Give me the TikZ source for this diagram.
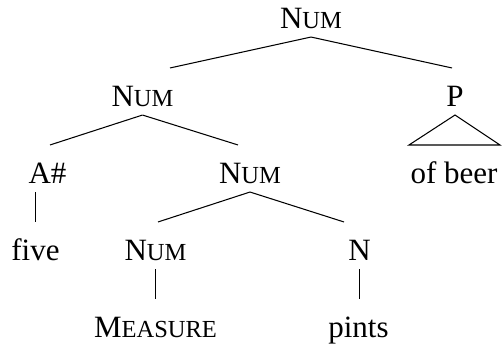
\documentclass[tikz,border=0pt]{standalone}
\usepackage{fontspec}
\setmainfont{Liberation Serif}
\usepackage{tikz}

% small caps faked with a smaller upper case
\newcommand{\capsmall}[2]{#1{\fontsize{24.5pt}{24.5pt}\selectfont #2}}

\begin{document}
\begin{tikzpicture}[
      x=1pt, y=-1pt,
      every node/.style={font=\fontsize{31pt}{31pt}\selectfont, anchor=base,
        inner sep=0pt, text height=37.5pt, text depth=8.5pt},
      line width=1.05pt
    ]
    \useasboundingbox (0,0) rectangle (502,348);
    % labels, placed on their baselines
    \node (root) at (311,28) {\capsmall{N}{UM}};
    \node (numa) at (142.5,106) {\capsmall{N}{UM}};
    \node (prep) at (455,106) {P};
    \node (ahash) at (47.5,183) {A\#};
    \node (numb) at (250,183) {\capsmall{N}{UM}};
    \node (ofbeer) at (454,183) {of beer};
    \node (five) at (35.5,260) {five};
    \node (numc) at (155.5,260) {\capsmall{N}{UM}};
    \node (noun) at (359.5,260) {N};
    \node (measure) at (155.5,337) {\capsmall{M}{EASURE}};
    \node (pints) at (358.5,337) {pints};
    % branches
    \draw (root.south) -- ([xshift=27.5pt]numa.north);
    \draw (root.south) -- ([xshift=-3pt]prep.north);
    \draw (numa.south) -- ([xshift=2.5pt]ahash.north);
    \draw (numa.south) -- ([xshift=-12pt]numb.north);
    \draw (prep.south) -- ([xshift=-45pt]ofbeer.north) -- ([xshift=46pt]ofbeer.north) -- cycle;
    \draw (ahash.south -| five.north) -- (five.north);
    \draw (numb.south) -- ([xshift=2.5pt]numc.north);
    \draw (numb.south) -- ([xshift=-15.5pt]noun.north);
    \draw (numc.south) -- (measure.north);
    \draw (noun.south) -- (noun.south |- pints.north);
\end{tikzpicture}
\end{document}
